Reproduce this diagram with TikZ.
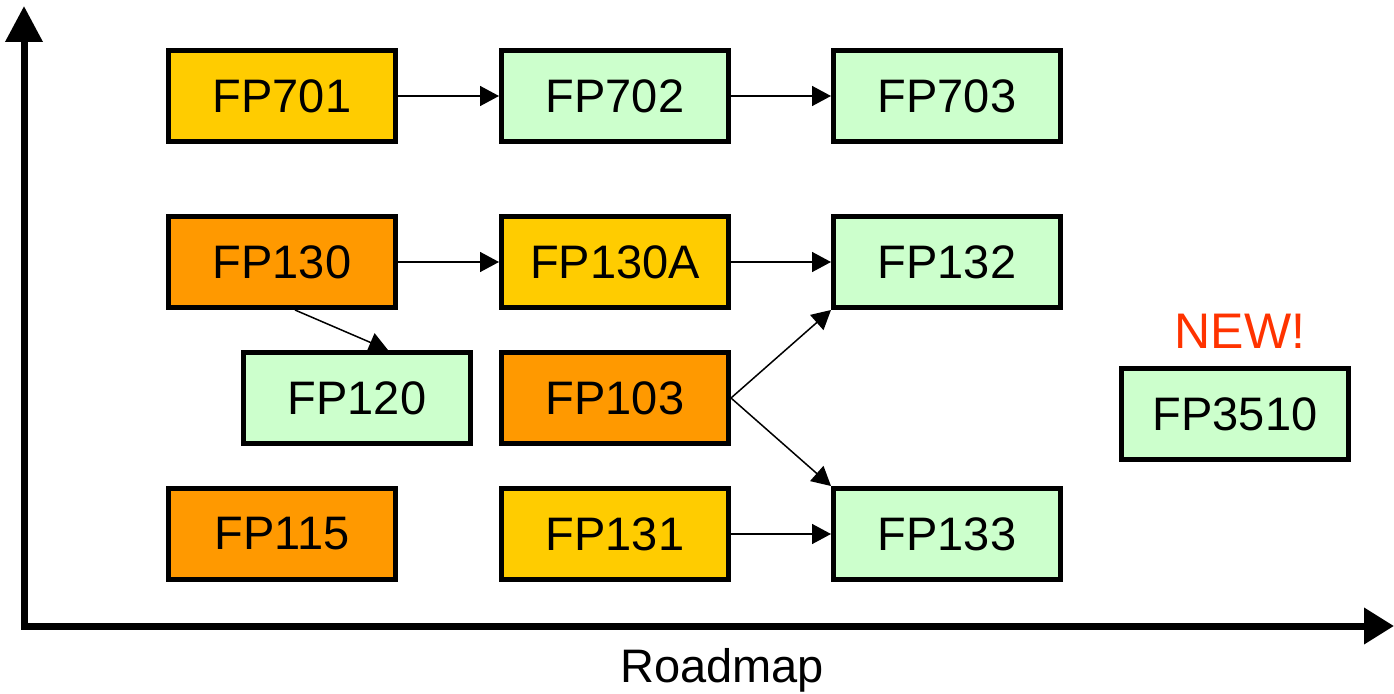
\documentclass[tikz,border=0pt]{standalone}
\usepackage{fontspec}
\setmainfont{Liberation Sans}
\usetikzlibrary{arrows.meta}
\definecolor{cyellow}{HTML}{FFCC00}
\definecolor{corange}{HTML}{FF9900}
\definecolor{cgreen}{HTML}{CCFFCC}
\definecolor{cnew}{HTML}{FF3300}
\tikzset{
  fpbox/.style={draw=black, line width=5pt, minimum width=227pt, minimum height=91pt, inner sep=0pt,
    font=\fontsize{47}{56}\selectfont},
  yel/.style={fpbox, fill=cyellow},
  ora/.style={fpbox, fill=corange},
  grn/.style={fpbox, fill=cgreen},
  link/.style={line width=1.5pt, -{Triangle[length=19pt,width=20pt]}},
  axis/.style={line width=7pt, {Triangle[length=36pt,width=36pt]}-{Triangle[length=30pt,width=35pt]}}
}
\begin{document}
\begin{tikzpicture}[x=1pt,y=-1pt]
\useasboundingbox (0,0) rectangle (1394,693);
% axes
\coordinate (ytip) at (24,6);
\coordinate (corner) at (24,626);
\coordinate (xtip) at (1394,626);
\draw[axis, line join=miter] (ytip) -- (corner) -- (xtip);
% boxes
\node[yel] (fp701) at (282,96) {FP701};
\node[grn] (fp702) at (615,96) {FP702};
\node[grn] (fp703) at (947,96) {FP703};
\node[ora] (fp130) at (282,262) {FP130};
\node[yel] (fp130a) at (615,262) {FP130A};
\node[grn] (fp132) at (947,262) {FP132};
\node[grn] (fp120) at (357,398) {FP120};
\node[ora] (fp103) at (615,398) {FP103};
\node[ora] (fp115) at (282,534) {FP115};
\node[yel] (fp131) at (615,534) {FP131};
\node[grn] (fp133) at (947,534) {FP133};
\node[grn] (fp3510) at (1235,414) {FP3510};
% labels
\node[anchor=base, text=cnew, font=\fontsize{50}{60}\selectfont, inner sep=0pt] (new) at (1240,348) {NEW!};
\node[anchor=base, font=\fontsize{47}{56}\selectfont, inner sep=0pt] (roadmap) at (722,682) {Roadmap};
% connectors
\draw[link] (fp701.east) -- (fp702.west);
\draw[link] (fp702.east) -- (fp703.west);
\draw[link] (fp130.east) -- (fp130a.west);
\draw[link] (fp130a.east) -- (fp132.west);
\draw[link] ([xshift=13pt]fp130.south) -- ([xshift=31pt]fp120.north);
\draw[link] (fp103.east) -- (fp132.south west);
\draw[link] (fp103.east) -- (fp133.north west);
\draw[link] (fp131.east) -- (fp133.west);
\end{tikzpicture}
\end{document}
